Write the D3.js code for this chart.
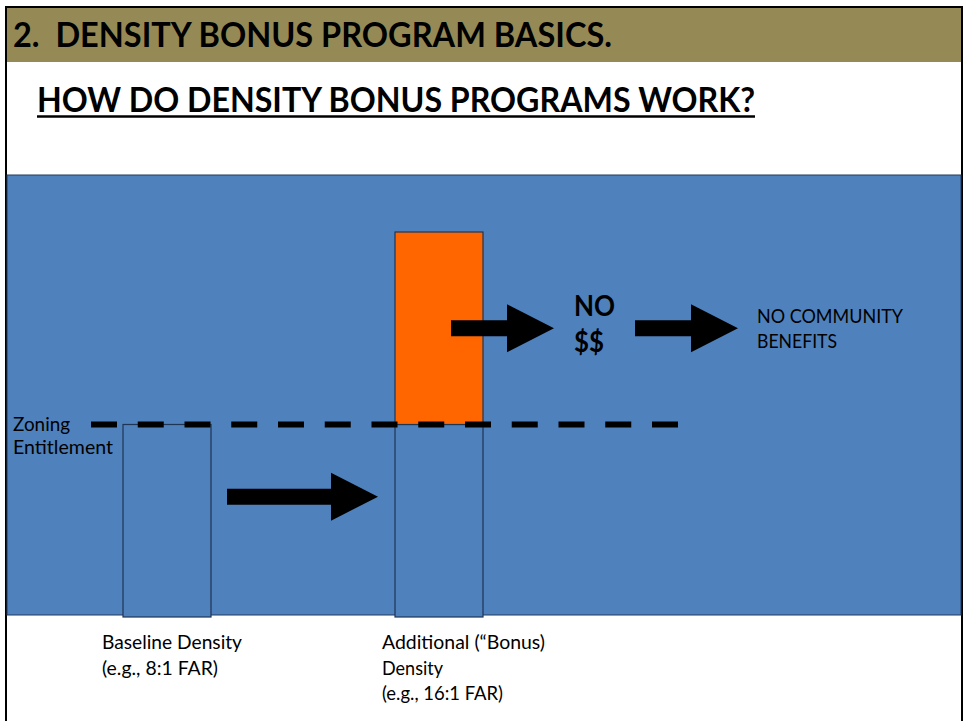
<!DOCTYPE html>
<html>
<head>
<meta charset="utf-8">
<script src="https://cdn.jsdelivr.net/npm/d3@7"></script>
<style>
  body { margin: 0; background: #fff; }
  text { font-family: Lato, "Open Sans", sans-serif; fill: #000; white-space: pre; }
</style>
</head>
<body>
<div id="d3-container"></div>
<script>
/* CONSTANTS AND GLOBALS */
const width = 965,
  height = 721;

/* DATA */
const categories = ["baseline", "bonus"];
const baseFar = [8, 8];          // blue part of each bar (FAR)
const bonusFar = [0, 8];         // orange part stacked on top (FAR)
const zoningEntitlement = 8;     // dashed line (FAR)
const categoryLabels = [
  ["Baseline Density", "(e.g., 8:1 FAR)"],
  ["Additional (\u201CBonus)", "Density", "(e.g., 16:1 FAR)"]
];
const moneyLabel = ["NO", "$$"];
const outcomeLabel = ["NO COMMUNITY", "BENEFITS"];
const zoningLabel = ["Zoning", "Entitlement"];
const headerText = "2.  DENSITY BONUS PROGRAM BASICS.";
const subtitleText = "HOW DO DENSITY BONUS PROGRAMS WORK?";

/* COLORS */
const olive = "#958a55",
  blue = "#4f81bd",
  orange = "#ff6600",
  barStroke = "#1f3554";

const svg = d3
  .select("#d3-container")
  .append("svg")
  .attr("width", width)
  .attr("height", height);

// slide frame
svg.append("rect")
  .attr("x", 6).attr("y", 7)
  .attr("width", 956).attr("height", height)
  .attr("fill", "#fff")
  .attr("stroke", "#000")
  .attr("stroke-width", 2);

// header band
svg.append("rect")
  .attr("x", 7).attr("y", 8)
  .attr("width", 954).attr("height", 54)
  .attr("fill", olive);

svg.append("text")
  .attr("x", 13).attr("y", 47)
  .attr("font-size", 34)
  .attr("font-weight", 700)
  .attr("textLength", 599)
  .attr("lengthAdjust", "spacingAndGlyphs")
  .text(headerText);

svg.append("text")
  .attr("x", 37).attr("y", 112)
  .attr("font-size", 34)
  .attr("font-weight", 700)
  .attr("textLength", 718)
  .attr("lengthAdjust", "spacingAndGlyphs")
  .text(subtitleText);

svg.append("line")
  .attr("x1", 37).attr("x2", 755)
  .attr("y1", 116.5).attr("y2", 116.5)
  .attr("stroke", "#000")
  .attr("stroke-width", 2.5);

// blue panel
svg.append("rect")
  .attr("x", 7).attr("y", 175)
  .attr("width", 954).attr("height", 440)
  .attr("fill", blue)
  .attr("stroke", "#22395a")
  .attr("stroke-width", 1);

/* SCALES */
const yScale = d3.scaleLinear()
  .domain([0, 16])
  .range([617, 232]);

const xScale = d3.scalePoint()
  .domain(categories)
  .range([167, 439]);

const barWidth = 88;

// build bar segments from the arrays
const segments = [];
categories.forEach((c, i) => {
  segments.push({ cat: c, y0: 0, y1: baseFar[i], fill: blue });
  if (bonusFar[i] > 0) {
    segments.push({ cat: c, y0: baseFar[i], y1: baseFar[i] + bonusFar[i], fill: orange });
  }
});

svg.selectAll(".bar")
  .data(segments)
  .join("rect")
  .attr("class", "bar")
  .attr("x", d => xScale(d.cat) - barWidth / 2)
  .attr("y", d => yScale(d.y1))
  .attr("width", barWidth)
  .attr("height", d => yScale(d.y0) - yScale(d.y1))
  .attr("fill", d => d.fill)
  .attr("stroke", barStroke)
  .attr("stroke-width", 1.2);

// zoning entitlement dashed line
svg.append("line")
  .attr("x1", 91).attr("x2", 678)
  .attr("y1", yScale(zoningEntitlement))
  .attr("y2", yScale(zoningEntitlement))
  .attr("stroke", "#000")
  .attr("stroke-width", 6)
  .attr("stroke-dasharray", "26 20.75");

svg.selectAll(".zoning")
  .data(zoningLabel)
  .join("text")
  .attr("class", "zoning")
  .attr("x", 13)
  .attr("y", (d, i) => 431 + i * 23)
  .attr("font-size", 20)
  .attr("textLength", (d, i) => [57, 100][i])
  .attr("lengthAdjust", "spacingAndGlyphs")
  .text(d => d);

/* ARROWS */
function arrowPath(x0, x1, yc) {
  const p = d3.path();
  const shaft = 8, head = 24, headLen = 47;
  p.moveTo(x0, yc - shaft);
  p.lineTo(x1 - headLen, yc - shaft);
  p.lineTo(x1 - headLen, yc - head);
  p.lineTo(x1, yc);
  p.lineTo(x1 - headLen, yc + head);
  p.lineTo(x1 - headLen, yc + shaft);
  p.lineTo(x0, yc + shaft);
  p.closePath();
  return p.toString();
}

const xb = xScale("baseline"), xo = xScale("bonus");
const arrows = [
  { x0: xb + barWidth / 2 + 16, x1: xo - barWidth / 2 - 17, far: 5 },
  { x0: xo + 12, x1: xo + 115, far: 12 },
  { x0: xo + 196, x1: xo + 299, far: 12 }
];

svg.selectAll(".arrow")
  .data(arrows)
  .join("path")
  .attr("class", "arrow")
  .attr("d", d => arrowPath(d.x0, d.x1, yScale(d.far)))
  .attr("fill", "#000");

// NO $$
svg.selectAll(".money")
  .data(moneyLabel)
  .join("text")
  .attr("class", "money")
  .attr("x", 574)
  .attr("y", (d, i) => 316 + i * 36)
  .attr("font-size", 28)
  .attr("font-weight", 700)
  .attr("textLength", (d, i) => [41, 30][i])
  .attr("lengthAdjust", "spacingAndGlyphs")
  .text(d => d);

svg.selectAll(".outcome")
  .data(outcomeLabel)
  .join("text")
  .attr("class", "outcome")
  .attr("x", 757)
  .attr("y", (d, i) => 323 + i * 25)
  .attr("font-size", 18.5)
  .attr("textLength", (d, i) => [146, 80][i])
  .attr("lengthAdjust", "spacingAndGlyphs")
  .text(d => d);

// category labels under the bars
const labelWidths = [[140, 116], [163, 61, 121]];
const labelX = [xb - 65, xo - 57];

categoryLabels.forEach((lines, ci) => {
  svg.append("g")
    .selectAll("text")
    .data(lines)
    .join("text")
    .attr("x", labelX[ci])
    .attr("y", (d, i) => 649 + i * 25.7)
    .attr("font-size", 20)
    .attr("textLength", (d, i) => labelWidths[ci][i])
    .attr("lengthAdjust", "spacingAndGlyphs")
    .text(d => d);
});
</script>
</body>
</html>
